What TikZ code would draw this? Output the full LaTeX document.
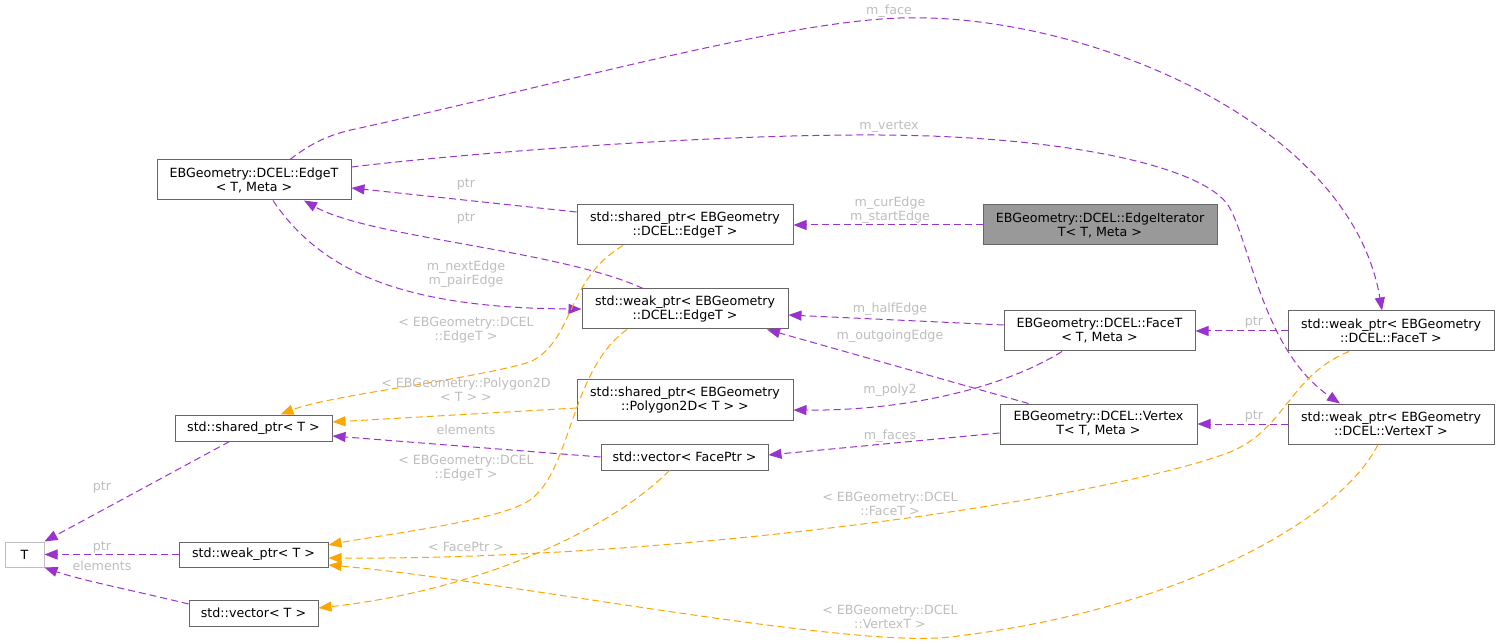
\documentclass[tikz,border=0pt]{standalone}
\usepackage{fontspec}
\setmainfont{DejaVu Sans}
\usetikzlibrary{arrows.meta}
\definecolor{pur}{HTML}{9A32CD}
\definecolor{org}{HTML}{FFA500}
\definecolor{bord}{HTML}{666666}
\definecolor{tbord}{HTML}{BFBFBF}
\definecolor{labelc}{HTML}{BEBEBE}
\definecolor{fillg}{HTML}{999999}
\begin{document}
\begin{tikzpicture}[x=1pt,y=-1pt,
  box/.style={draw=bord, line width=1pt, inner sep=0pt, align=center, font=\fontsize{12.65}{14}\selectfont, text=black, fill=white},
  pe/.style={draw=pur, line width=1pt, dash pattern=on 7pt off 4pt, -{Triangle[length=13pt,width=10pt]}},
  oe/.style={draw=org, line width=1pt, dash pattern=on 7pt off 4pt, -{Triangle[length=13pt,width=10pt]}},
  lab/.style={text=labelc, font=\fontsize{12.65}{14}\selectfont, align=center, inner sep=0pt}]
\useasboundingbox[fill=white] (0,0) rectangle (1500,644);

\path
 node[box, minimum width=194pt, minimum height=40pt] (edgeT) at (254,180) {EBGeometry::DCEL::EdgeT\\< T, Meta >}
 node[box, minimum width=216pt, minimum height=40pt] (sEdge) at (685,225) {std::shared\_ptr< EBGeometry\\::DCEL::EdgeT >}
 node[box, fill=fillg, minimum width=234pt, minimum height=40pt] (iter) at (1100,225) {EBGeometry::DCEL::EdgeIterator\\T< T, Meta >}
 node[box, minimum width=206pt, minimum height=40pt] (wEdge) at (685,309) {std::weak\_ptr< EBGeometry\\::DCEL::EdgeT >}
 node[box, minimum width=191pt, minimum height=40pt] (faceT) at (1099.5,331) {EBGeometry::DCEL::FaceT\\< T, Meta >}
 node[box, minimum width=206pt, minimum height=40pt] (wFace) at (1391,331) {std::weak\_ptr< EBGeometry\\::DCEL::FaceT >}
 node[box, minimum width=216pt, minimum height=40pt] (sPoly) at (685,400) {std::shared\_ptr< EBGeometry\\::Polygon2D< T > >}
 node[box, minimum width=197pt, minimum height=40pt] (vertex) at (1098.5,424) {EBGeometry::DCEL::Vertex\\T< T, Meta >}
 node[box, minimum width=206pt, minimum height=40pt] (wVertex) at (1391,424) {std::weak\_ptr< EBGeometry\\::DCEL::VertexT >}
 node[box, minimum width=157pt, minimum height=26pt] (sT) at (253.5,428) {std::shared\_ptr< T >}
 node[box, minimum width=167pt, minimum height=26pt] (vFace) at (684.5,457) {std::vector< FacePtr >}
 node[box, draw=tbord, minimum width=39pt, minimum height=25pt] (T) at (24.5,554.5) {T}
 node[box, minimum width=149pt, minimum height=25pt] (wT) at (253.5,554.5) {std::weak\_ptr< T >}
 node[box, minimum width=129pt, minimum height=26pt] (vT) at (253.5,613) {std::vector< T >};

% purple member edges
\draw[pe] ([yshift=13pt]sEdge.west) -- ([yshift=-8pt]edgeT.east);
\draw[pe] ([xshift=-42pt]wEdge.north) .. controls (560,250) and (370,238) .. ([xshift=50pt]edgeT.south);
\draw[pe] ([xshift=19pt]edgeT.south) .. controls (320,270) and (400,308) .. (wEdge.west);
\draw[pe] (iter.west) -- (sEdge.east);
\draw[pe] ([yshift=6pt]faceT.west) -- ([yshift=-6pt]wEdge.east);
\draw[pe] ([xshift=-70pt]vertex.north) -- ([xshift=82pt]wEdge.south);
\draw[pe] ([xshift=-37.5pt]faceT.south) .. controls (1000,390) and (900,411) .. ([yshift=-10pt]sPoly.east);
\draw[pe] ([yshift=-9pt]vertex.west) -- ([yshift=2pt]vFace.east);
\draw[pe] (wFace.west) -- (faceT.east);
\draw[pe] (wVertex.west) -- (vertex.east);
\draw[pe] ([xshift=36pt]edgeT.north) .. controls (315,140) and (335,133) .. (360,128)
  .. controls (560,84) and (780,22) .. (900,18)
  .. controls (1080,12) and (1350,120) .. ([xshift=-9pt]wFace.north);
\draw[pe] ([yshift=13pt]edgeT.east) .. controls (450,155) and (700,134) .. (880,135)
  .. controls (1060,136) and (1200,165) .. (1228,205)
  .. controls (1250,240) and (1262,350) .. ([xshift=-51pt]wVertex.north);
\draw[pe] ([xshift=-24pt]sT.south) -- (T.north east);
\draw[pe] (wT.west) -- (T.east);
\draw[pe] ([yshift=9pt]vT.west) .. controls (140,592) and (80,580) .. (T.south east);
\draw[pe] (vFace.west) -- ([yshift=-8pt]sT.east);

% orange template edges
\draw[oe] ([xshift=-62pt]sEdge.south) .. controls (565,280) and (575,340) .. (530,362)
  .. controls (470,380) and (330,395) .. ([xshift=27pt]sT.north);
\draw[oe] ([yshift=-8pt]sPoly.west) -- ([yshift=6pt]sT.east);
\draw[oe] ([xshift=-58pt]wEdge.south) .. controls (570,370) and (572,470) .. (530,500)
  .. controls (500,521) and (380,535) .. ([yshift=9.5pt]wT.east);
\draw[oe] ([xshift=-42pt]wFace.south) .. controls (1290,375) and (1285,430) .. (1230,452)
  .. controls (1120,495) and (700,560) .. ([yshift=-3.5pt]wT.east);
\draw[oe] ([xshift=-13pt]wVertex.south) .. controls (1340,520) and (1180,610) .. (950,637)
  .. controls (850,649) and (500,580) .. ([yshift=-10.5pt]wT.east);
\draw[oe] ([xshift=-15pt]vFace.south) .. controls (610,530) and (480,590) .. ([yshift=5pt]vT.east);

% labels
\node[lab] (l1) at (466,184) {ptr};
\node[lab] (l2) at (466,218) {ptr};
\node[lab] (l3) at (466,274) {m\_nextEdge\\m\_pairEdge};
\node[lab] (l4) at (466,330) {< EBGeometry::DCEL\\::EdgeT >};
\node[lab] (l5) at (466,390) {< EBGeometry::Polygon2D\\< T > >};
\node[lab] (l6) at (466,430) {elements};
\node[lab] (l7) at (466,468) {< EBGeometry::DCEL\\::EdgeT >};
\node[lab] (l8) at (466,547) {< FacePtr >};
\node[lab] (l9) at (102,487) {ptr};
\node[lab] (l10) at (102,547) {ptr};
\node[lab] (l11) at (102,566) {elements};
\node[lab] (l12) at (890,210) {m\_curEdge\\m\_startEdge};
\node[lab] (l13) at (890,309) {m\_halfEdge};
\node[lab] (l14) at (890,336) {m\_outgoingEdge};
\node[lab] (l15) at (890,390) {m\_poly2};
\node[lab] (l16) at (890,436) {m\_faces};
\node[lab] (l17) at (890,504) {< EBGeometry::DCEL\\::FaceT >};
\node[lab] (l18) at (890,617) {< EBGeometry::DCEL\\::VertexT >};
\node[lab] (l19) at (1254,322) {ptr};
\node[lab] (l20) at (1254,416) {ptr};
\node[lab] (l21) at (889,127) {m\_vertex};
\node[lab] (l22) at (889,11) {m\_face};
\end{tikzpicture}
\end{document}
